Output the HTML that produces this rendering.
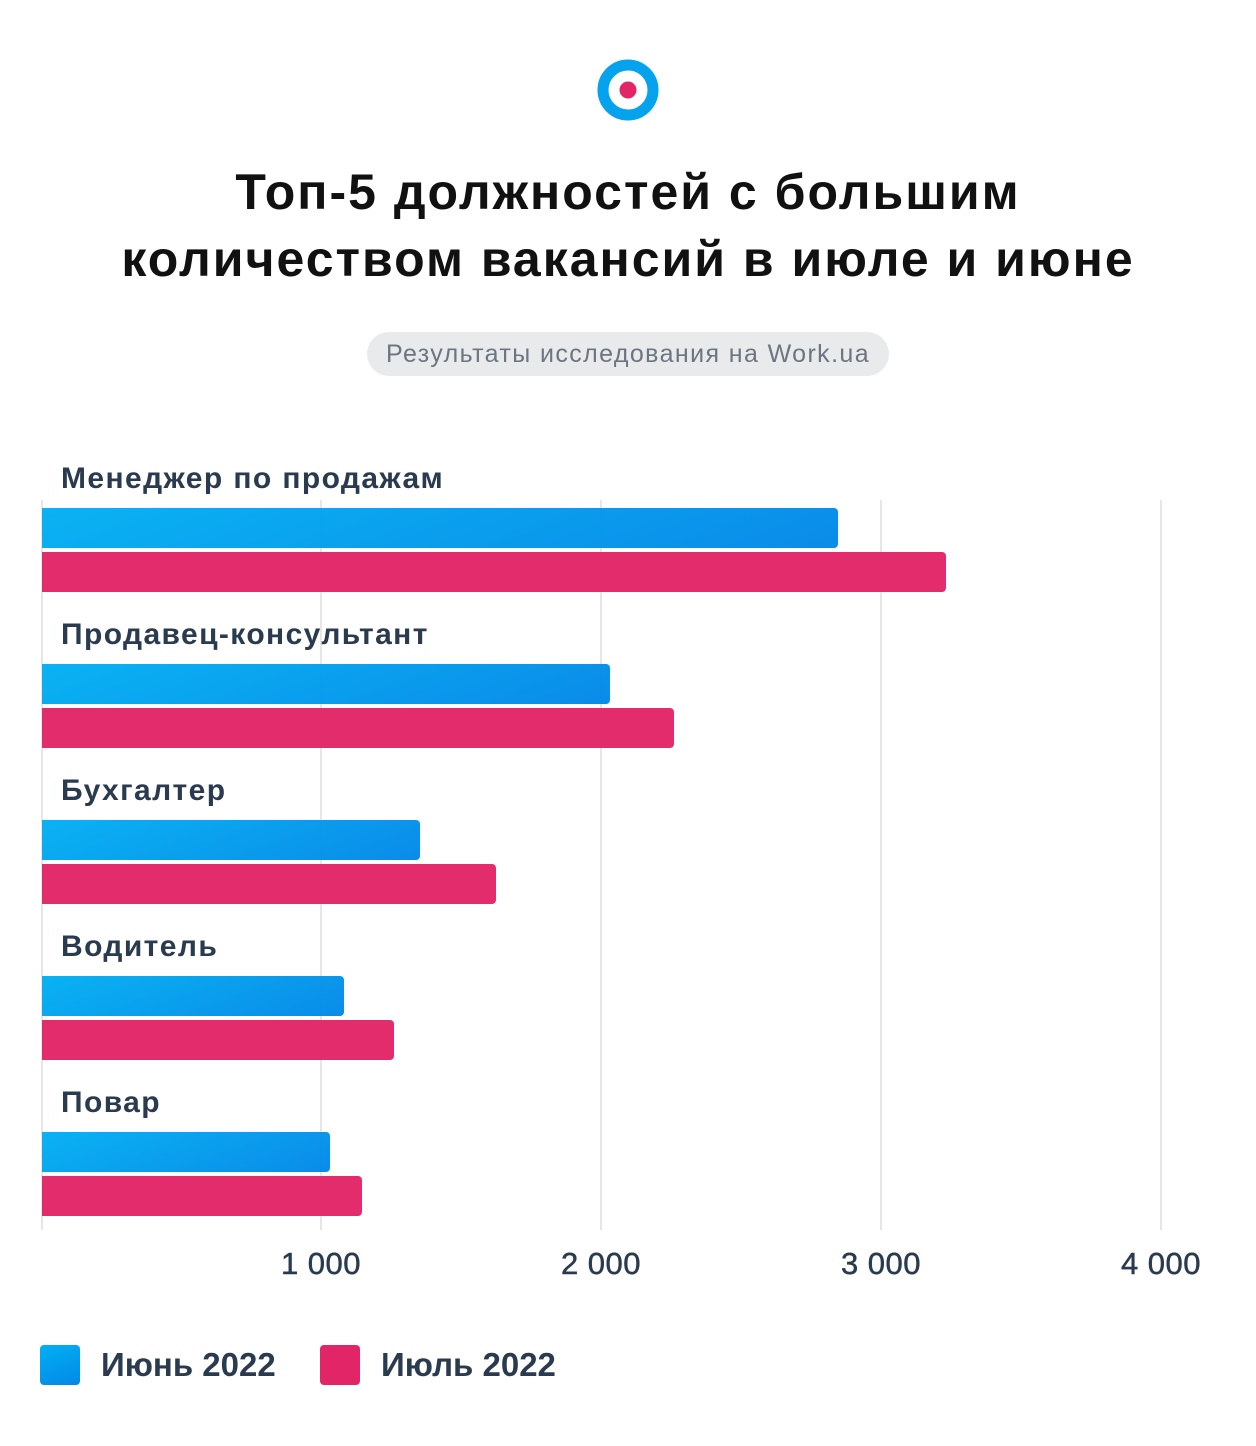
<!DOCTYPE html>
<html><head><meta charset="utf-8"><style>
body{margin:0;width:1256px;height:1446px;background:#fff;font-family:"Liberation Sans",sans-serif;position:relative;overflow:hidden;color:#2a3b4f}
.abs{position:absolute}
.title{left:0;width:1256px;text-align:center;font-weight:bold;font-size:50px;letter-spacing:2px;color:#111;line-height:67px;top:159px}
.pill{left:367px;top:332px;width:522px;height:44px;border-radius:22px;background:#e9eaec;color:#6c7581;font-size:25px;letter-spacing:1.4px;line-height:44px;text-align:center}
.grid{top:500px;height:730px;width:2px;background:#e6e6e6}
.lab{left:61px;font-size:30px;font-weight:bold;letter-spacing:1.4px;color:#2a3b4f}
.b{left:42px;height:40px;border-radius:0 4px 4px 0;opacity:.97}
.bl{background:linear-gradient(160deg,#03b0f2,#0288e8)}
.rd{background:#e22567}
.tick{top:1246px;width:120px;text-align:center;font-size:31px;letter-spacing:0.5px;color:#2a3b4f;-webkit-text-stroke:0.5px #2a3b4f}
.sq{width:40px;height:40px;border-radius:4px;top:1345px}
.leg{top:1346px;font-size:33px;font-weight:bold;color:#2a3b4f}
</style></head><body>
<svg class="abs" style="left:596px;top:58px" width="64" height="64"><circle cx="32" cy="32" r="25" fill="none" stroke="#05a2ee" stroke-width="11"/><circle cx="32" cy="32" r="8.5" fill="#e22567"/></svg>
<div class="abs title">Топ-5 должностей с большим<br>количеством вакансий в июле и июне</div>
<div class="abs pill">Результаты исследования на Work.ua</div>
<div class="abs grid" style="left:41px"></div>
<div class="abs grid" style="left:320px"></div>
<div class="abs grid" style="left:600px"></div>
<div class="abs grid" style="left:880px"></div>
<div class="abs grid" style="left:1160px"></div>

<div class="abs lab" style="top:462px">Менеджер по продажам</div>
<div class="abs b bl" style="top:508px;width:796px"></div>
<div class="abs b rd" style="top:552px;width:904px"></div>
<div class="abs lab" style="top:618px">Продавец-консультант</div>
<div class="abs b bl" style="top:664px;width:568px"></div>
<div class="abs b rd" style="top:708px;width:632px"></div>
<div class="abs lab" style="top:774px">Бухгалтер</div>
<div class="abs b bl" style="top:820px;width:378px"></div>
<div class="abs b rd" style="top:864px;width:454px"></div>
<div class="abs lab" style="top:930px">Водитель</div>
<div class="abs b bl" style="top:976px;width:302px"></div>
<div class="abs b rd" style="top:1020px;width:352px"></div>
<div class="abs lab" style="top:1086px">Повар</div>
<div class="abs b bl" style="top:1132px;width:288px"></div>
<div class="abs b rd" style="top:1176px;width:320px"></div>

<div class="abs tick" style="left:261px">1 000</div>
<div class="abs tick" style="left:541px">2 000</div>
<div class="abs tick" style="left:821px">3 000</div>
<div class="abs tick" style="left:1101px">4 000</div>

<div class="abs sq bl" style="left:40px"></div>
<div class="abs leg" style="left:101px">Июнь 2022</div>
<div class="abs sq rd" style="left:320px"></div>
<div class="abs leg" style="left:381px">Июль 2022</div>
</body></html>
